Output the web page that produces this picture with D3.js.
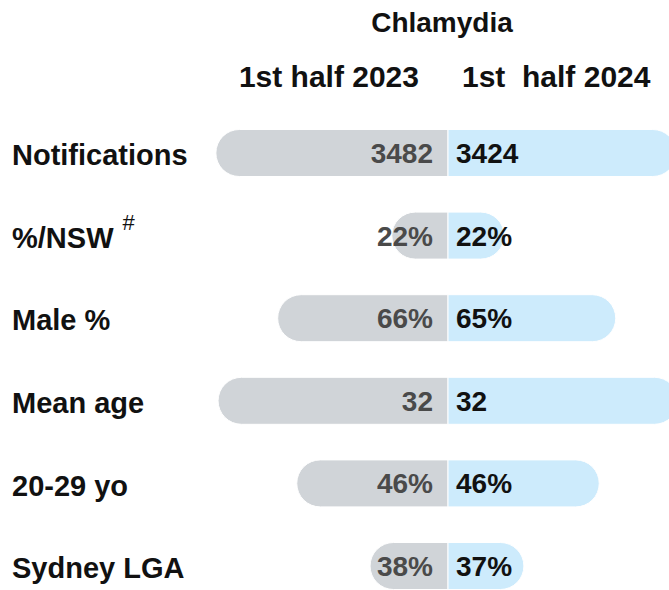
<!DOCTYPE html>
<html>
<head>
<meta charset="utf-8">
<script src="https://cdnjs.cloudflare.com/ajax/libs/d3/7.8.5/d3.min.js"></script>
<style>
  body { margin: 0; background: #fff; }
  text { font-family: "Liberation Sans", Arial, sans-serif; }
</style>
</head>
<body>
<div id="chart"></div>
<script>
// data
const title = 'Chlamydia';
const periods = ['1st half 2023', '1st  half 2024'];
const measures = ['Notifications', '%/NSW', 'Male %', 'Mean age', '20-29 yo', 'Sydney LGA'];
const measureNotes = ['', '#', '', '', '', ''];
const values2023 = [3482, 22, 66, 32, 46, 38];
const values2024 = [3424, 22, 65, 32, 46, 37];
const valueSuffix = ['', '%', '%', '', '%', '%'];
// each row has its own scale (value that would fill the half width)
const rowScaleMax = [3600, 94, 93, 33.4, 73, 117];

const width = 669;
const height = 590;
const cx = 448;
const halfWidth = 240;
const barHeight = 47;
const r = barHeight / 2;

const svg = d3.select('#chart')
  .append('svg')
  .attr('width', width)
  .attr('height', height);

const y = d3.scalePoint()
  .domain(measures)
  .range([153, 566]);

const rowScale = measures.map((m, i) => d3.scaleLinear()
  .domain([0, rowScaleMax[i]])
  .range([0, halfWidth]));

// left bar: rounded left end, flat at the centre
function leftBar(len, yc) {
  const x0 = cx - len;
  const top = yc - r, bot = yc + r;
  return `M${cx},${top}H${x0 + r}A${r},${r} 0 0 0 ${x0 + r},${bot}H${cx}Z`;
}

function rightBar(len, yc) {
  const x1 = cx + len;
  const top = yc - r, bot = yc + r;
  return `M${cx},${top}H${x1 - r}A${r},${r} 0 0 1 ${x1 - r},${bot}H${cx}Z`;
}

const rows = svg.append('g').selectAll('g')
  .data(measures)
  .join('g');

rows.append('path')
  .attr('d', (d, i) => leftBar(rowScale[i](values2023[i]), y(d)))
  .attr('fill', '#d0d4d8')
  .attr('stroke', '#fff')
  .attr('stroke-width', 1);

rows.append('path')
  .attr('d', (d, i) => rightBar(rowScale[i](values2024[i]), y(d)))
  .attr('fill', '#cdebfc')
  .attr('stroke', '#fff')
  .attr('stroke-width', 1);

rows.append('text')
  .attr('x', cx - 15)
  .attr('y', d => y(d))
  .attr('dy', '0.36em')
  .attr('text-anchor', 'end')
  .attr('font-size', 28)
  .attr('font-weight', 'bold')
  .attr('fill', '#4a4a4a')
  .text((d, i) => values2023[i] + valueSuffix[i]);

rows.append('text')
  .attr('x', cx + 8)
  .attr('y', d => y(d))
  .attr('dy', '0.36em')
  .attr('text-anchor', 'start')
  .attr('font-size', 28)
  .attr('font-weight', 'bold')
  .attr('fill', '#111')
  .text((d, i) => values2024[i] + valueSuffix[i]);

// row labels
const labels = rows.append('text')
  .attr('x', 12)
  .attr('y', d => y(d))
  .attr('dy', '0.42em')
  .attr('font-size', 29)
  .attr('font-weight', 'bold')
  .attr('fill', '#111')
  .text(d => d);

labels.filter((d, i) => measureNotes[i])
  .append('tspan')
  .attr('dx', 9)
  .attr('dy', -18)
  .attr('font-size', 22)
  .attr('font-weight', 'normal')
  .text((d) => measureNotes[measures.indexOf(d)]);

// headers
svg.append('text')
  .attr('x', cx - 6)
  .attr('y', 32)
  .attr('text-anchor', 'middle')
  .attr('font-size', 28)
  .attr('font-weight', 'bold')
  .attr('fill', '#111')
  .text(title);

svg.append('text')
  .attr('x', cx - 29)
  .attr('y', 87)
  .attr('text-anchor', 'end')
  .attr('font-size', 30)
  .attr('font-weight', 'bold')
  .attr('fill', '#111')
  .style('white-space', 'pre')
  .text(periods[0]);

svg.append('text')
  .attr('x', cx + 14)
  .attr('y', 87)
  .attr('text-anchor', 'start')
  .attr('font-size', 30)
  .attr('font-weight', 'bold')
  .attr('fill', '#111')
  .style('white-space', 'pre')
  .text(periods[1]);
</script>
</body>
</html>
